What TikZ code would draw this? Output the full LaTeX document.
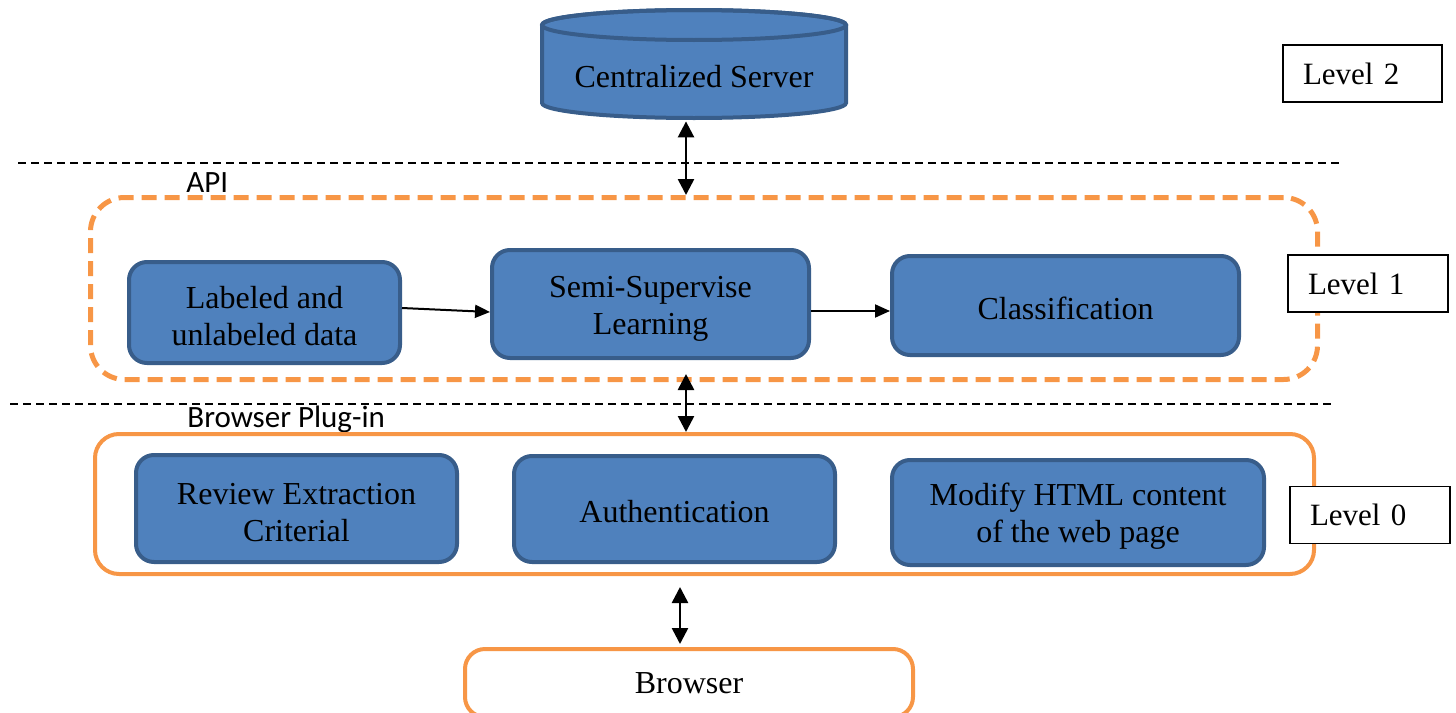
\documentclass[tikz,border=0pt]{standalone}
\usepackage{fontspec}
\setmainfont{Liberation Serif}
\newfontfamily\calibri{Carlito}
\usetikzlibrary{arrows.meta,calc}
\definecolor{boxblue}{HTML}{4F81BD}
\definecolor{boxedge}{HTML}{385D8A}
\definecolor{orng}{HTML}{F79646}
\newcommand\toppad{\rule{0pt}{15pt}}
\begin{document}
\begin{tikzpicture}[x=0.5pt,y=-0.5pt,
 bluebox/.style={draw=boxedge, fill=boxblue, line width=2pt, rounded corners=9pt, align=center, font=\fontsize{16}{18.5}\selectfont, inner sep=0pt},
 oneline/.style={text height=14pt},
 levelbox/.style={draw=black, fill=white, line width=0.8pt, inner xsep=10pt, inner ysep=0pt, align=left, font=\fontsize{15.5}{18}\selectfont, minimum height=28.5pt, text width=59.5pt},
 sepline/.style={draw=black, line width=0.75pt, dash pattern=on 4pt off 2.5pt},
 arr/.style={line width=1.3pt, {Triangle[width=8pt,length=8pt]}-{Triangle[width=8pt,length=8pt]}},
 onearr/.style={line width=1pt, -{Triangle[width=6.5pt,length=7.5pt]}},
 lbl/.style={font=\calibri\fontsize{15.5}{18}\selectfont, inner sep=0pt, anchor=base west}]
\useasboundingbox (0,0) rectangle (1456,712);

% separators
\coordinate (s1a) at (18,163); \coordinate (s1b) at (1343,163);
\coordinate (s2a) at (10,404); \coordinate (s2b) at (1335,404);
\draw[sepline] (s1a) -- (s1b);
\draw[sepline] (s2a) -- (s2b);

% cylinder
\path[fill=boxblue, draw=boxedge, line width=2pt] (542,25) -- (542,103)
  arc[start angle=180,end angle=0,x radius=152,y radius=15] -- (846,25)
  arc[start angle=0,end angle=-180,x radius=152,y radius=15] -- cycle;
\draw[boxedge, line width=2pt] (694,25) ellipse[x radius=152, y radius=15];
\node[font=\fontsize{16}{18.5}\selectfont, minimum width=152pt, minimum height=44pt, inner sep=0pt] (server) at (694,77) {Centralized Server};

% API layer
\node[draw=orng, line width=2.5pt, dash pattern=on 7.5pt off 4pt, rounded corners=17pt, minimum width=613.5pt, minimum height=91pt] (api) at (704,288.5) {};
\node[lbl] (apil) at (186,192) {API};
\node[bluebox, minimum width=135.5pt, minimum height=50.5pt] (lab) at (264.5,312.5) {\toppad Labeled and\\unlabeled data};
\node[bluebox, minimum width=158.5pt, minimum height=54pt] (semi) at (650.5,304) {\toppad Semi-Supervise\\Learning};
\node[bluebox, oneline, minimum width=173.5pt, minimum height=49.5pt] (cls) at (1065.5,305.5) {Classification};

% Plug-in layer
\node[lbl] (plugl) at (187,427) {Browser Plug-in};
\node[draw=orng, fill=white, line width=2pt, rounded corners=12pt, minimum width=609.5pt, minimum height=70pt] (plug) at (704.5,504) {};
\node[bluebox, minimum width=160.5pt, minimum height=53.5pt] (rev) at (296.5,508.5) {\toppad Review Extraction\\Criterial};
\node[bluebox, oneline, minimum width=160.5pt, minimum height=53pt] (auth) at (674.5,509) {Authentication};
\node[bluebox, minimum width=186pt, minimum height=52.5pt] (mod) at (1078,512.5) {\toppad Modify HTML content\\of the web page};

% Browser
\node[draw=orng, fill=white, line width=2pt, rounded corners=10pt, minimum width=224pt, minimum height=34pt, font=\fontsize{16}{18.5}\selectfont] (browser) at (689,683) {Browser};

% Level boxes
\node[levelbox] (l2) at (1362.5,73.5) {Level 2};
\node[levelbox, text width=60pt] (l1) at (1368,283.5) {Level 1};
\node[levelbox, text width=60pt] (l0) at (1370,515) {Level 0};

% connectors
\coordinate (ax1) at (686,0);
\coordinate (ax3) at (680,0);
\coordinate (y311) at (0,311);
\draw[arr] (server.south -| ax1) -- (api.north -| ax1);
\draw[arr] ($(api.south -| ax1)+(0,-8)$) -- (plug.north -| ax1);
\draw[arr] ($(plug.south -| ax3)+(0,11)$) -- ($(browser.north -| ax3)+(0,-3)$);
\draw[onearr] ($(lab.east)+(0,-4.5)$) -- ($(semi.west)+(0,8)$);
\draw[onearr] (semi.east |- y311) -- (cls.west |- y311);
\end{tikzpicture}
\end{document}
